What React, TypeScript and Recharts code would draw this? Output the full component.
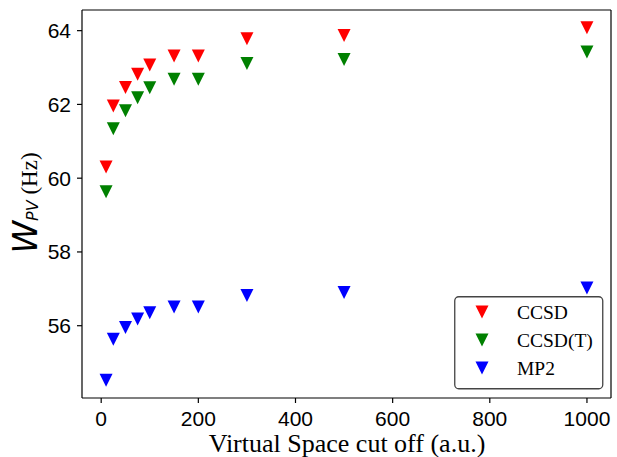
import React from "react";
import { ScatterChart, Scatter, XAxis, YAxis, Legend, ReferenceLine } from "recharts";

const cutoffs = [10, 25, 50, 75, 100, 150, 200, 300, 500, 1000];
const ccsd = [60.3, 61.96, 62.46, 62.82, 63.07, 63.31, 63.31, 63.78, 63.87, 64.08];
const ccsdT = [59.63, 61.34, 61.83, 62.18, 62.45, 62.68, 62.68, 63.11, 63.22, 63.42];
const mp2 = [54.52, 55.63, 55.95, 56.18, 56.35, 56.51, 56.51, 56.82, 56.9, 57.02];
const xTicks = [0, 200, 400, 600, 800, 1000];
const yTicks = [56, 58, 60, 62, 64];
const xDomain = [-39.5, 1049.5];
const yDomain = [54.04, 64.56];

const toPoints = (ys: number[]) => cutoffs.map((x, i) => ({ x, y: ys[i] }));

const series = [
  { name: "CCSD", color: "#ff0000", data: toPoints(ccsd) },
  { name: "CCSD(T)", color: "#008000", data: toPoints(ccsdT) },
  { name: "MP2", color: "#0000ff", data: toPoints(mp2) },
];

const S = 6.5;
const Tri = (props: any) => {
  const { cx, cy, fill } = props;
  if (cx == null || cy == null) return null;
  return (
    <polygon
      points={`${cx - S},${cy - S} ${cx + S},${cy - S} ${cx},${cy + S}`}
      fill={fill}
    />
  );
};

const SERIF = "'Liberation Serif', 'Times New Roman', serif";
const SANS = "'Liberation Sans', Arial, sans-serif";

const renderLegend = (props: any) => {
  const payload = props.payload || [];
  return (
    <svg width={150} height={94} style={{ display: "block" }}>
      <rect x={0.75} y={0.75} width={148} height={92} rx={4} ry={4} fill="#fff" stroke="#444" strokeWidth={1.3} />
      {payload.map((e: any, i: number) => {
        const cy = 16 + i * 28;
        const c = e.color || (e.payload && e.payload.fill);
        return (
          <g key={i}>
            <Tri cx={28} cy={cy} fill={c} />
            <text x={63} y={cy + 6.5} fontFamily={SERIF} fontSize={19.5} fill="#000">
              {e.value}
            </text>
          </g>
        );
      })}
    </svg>
  );
};

const YLabel = () => {
  const cx = 37;
  const cy = 203;
  return (
    <text
      x={cx}
      y={cy}
      transform={`rotate(-90 ${cx} ${cy})`}
      textAnchor="middle"
      fill="#000"
    >
      <tspan fontFamily="'DejaVu Sans', sans-serif" fontStyle="italic" fontSize={33}>W</tspan>
      <tspan fontFamily="'DejaVu Sans', sans-serif" fontStyle="italic" fontSize={16} dy={1}>PV</tspan>
      <tspan fontFamily={SERIF} fontSize={23} dy={-1}> (Hz)</tspan>
    </text>
  );
};

const XLabel = () => (
  <text x={347} y={452} textAnchor="middle" fontFamily={SERIF} fontSize={26} fill="#000">
    Virtual Space cut off (a.u.)
  </text>
);

export default function App() {
  return (
    <div style={{ position: "absolute", left: 0, top: 0, background: "#fff" }}>
      <ScatterChart width={617} height={457} margin={{ top: 10, right: 6, bottom: 0, left: 0 }}>
        <XAxis
          xAxisId="x"
          type="number"
          dataKey="x"
          domain={xDomain}
          ticks={xTicks}
          allowDataOverflow
          height={59}
          axisLine={{ stroke: "#000", strokeWidth: 1.2 }}
          tickLine={{ stroke: "#000", strokeWidth: 1.2 }}
          tickSize={5}
          tickMargin={8}
          tick={{ fill: "#000", fontSize: 21, fontFamily: SANS }}
          label={<XLabel />}
        />
        <YAxis
          yAxisId="y"
          type="number"
          dataKey="y"
          domain={yDomain}
          ticks={yTicks}
          allowDataOverflow
          width={82}
          axisLine={{ stroke: "#000", strokeWidth: 1.2 }}
          tickLine={{ stroke: "#000", strokeWidth: 1.2 }}
          tickSize={5}
          tickMargin={6}
          tick={{ fill: "#000", fontSize: 21, fontFamily: SANS }}
          label={<YLabel />}
        />
        <ReferenceLine xAxisId="x" yAxisId="y" y={yDomain[1]} stroke="#000" strokeWidth={1.2} ifOverflow="visible" />
        <ReferenceLine xAxisId="x" yAxisId="y" x={xDomain[1]} stroke="#000" strokeWidth={1.2} ifOverflow="visible" />
        <Legend
          layout="vertical"
          align="center"
          verticalAlign="middle"
          content={renderLegend}
          wrapperStyle={{ position: "absolute", left: 454, top: 296, width: 150, height: 94 }}
        />
        {series.map((s) => (
          <Scatter
            key={s.name}
            name={s.name}
            xAxisId="x"
            yAxisId="y"
            data={s.data}
            fill={s.color}
            shape={<Tri />}
            isAnimationActive={false}
          />
        ))}
      </ScatterChart>
    </div>
  );
}
